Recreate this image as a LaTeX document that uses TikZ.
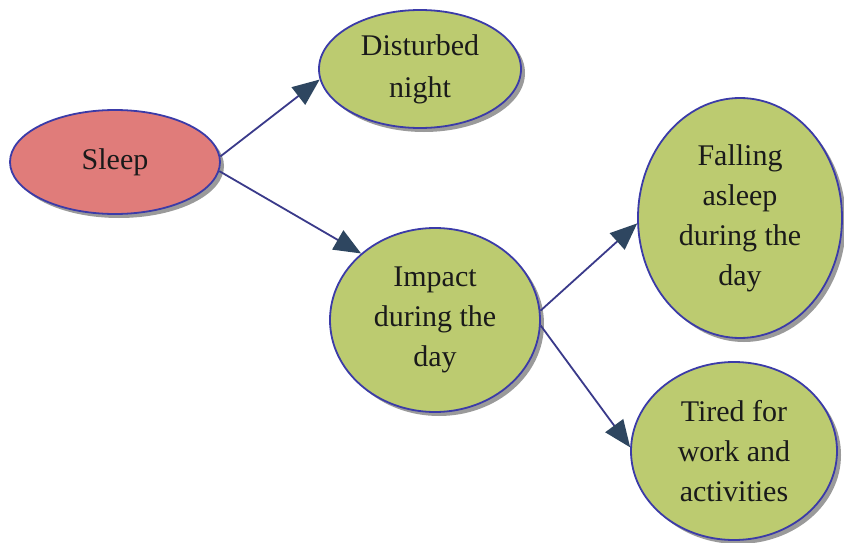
\documentclass[tikz,border=0pt]{standalone}
\usepackage{fontspec}
\setmainfont{Liberation Serif}
\usetikzlibrary{shapes.geometric,arrows.meta,shadows}
\definecolor{sleepred}{HTML}{E07C7A}
\definecolor{leafgreen}{HTML}{BCCB70}
\definecolor{edgeblue}{HTML}{3B3BA8}
\definecolor{linkblue}{HTML}{3A3A8A}
\definecolor{headc}{HTML}{2E4660}
\definecolor{shadowgray}{HTML}{9A9A9A}
\definecolor{inkc}{HTML}{1A1A1A}
\begin{document}
\begin{tikzpicture}[x=1pt,y=-1pt,
  bubble/.style={ellipse, draw=edgeblue, line width=1.8pt, inner sep=0pt,
    align=center, font=\fontsize{30}{40}\selectfont, text=inkc,
    drop shadow={shadow xshift=4pt, shadow yshift=-4pt, fill=shadowgray, opacity=1}},
  leaf/.style={bubble, fill=leafgreen},
  link/.style={draw=linkblue, line width=1.8pt,
    -{Triangle[length=27pt,width=22pt,color=headc]}}]
\useasboundingbox[fill=white] (0,0) rectangle (844,543);

% bubbles
\node[bubble, fill=sleepred, minimum width=210pt, minimum height=104pt] (sleep) at (115,162) {Sleep};
\node[leaf, minimum width=202pt, minimum height=118pt] (dist) at (420,69) {Disturbed\\[2pt]night};
\node[leaf, minimum width=210pt, minimum height=184pt] (imp) at (435,320) {Impact\\during the\\day};
\node[leaf, minimum width=204pt, minimum height=240pt] (fall) at (740,218) {Falling\\asleep\\during the\\day};
\node[leaf, minimum width=206pt, minimum height=178pt] (tired) at (734,451) {Tired for\\work and\\activities};

% connectors
\draw[link] (sleep.3) -- (dist.186);
\draw[link] (sleep.-5) -- (imp.138);
\draw[link] (imp.5) -- (fall.183);
\draw[link] (imp.-3) -- (tired.178);
\end{tikzpicture}
\end{document}
